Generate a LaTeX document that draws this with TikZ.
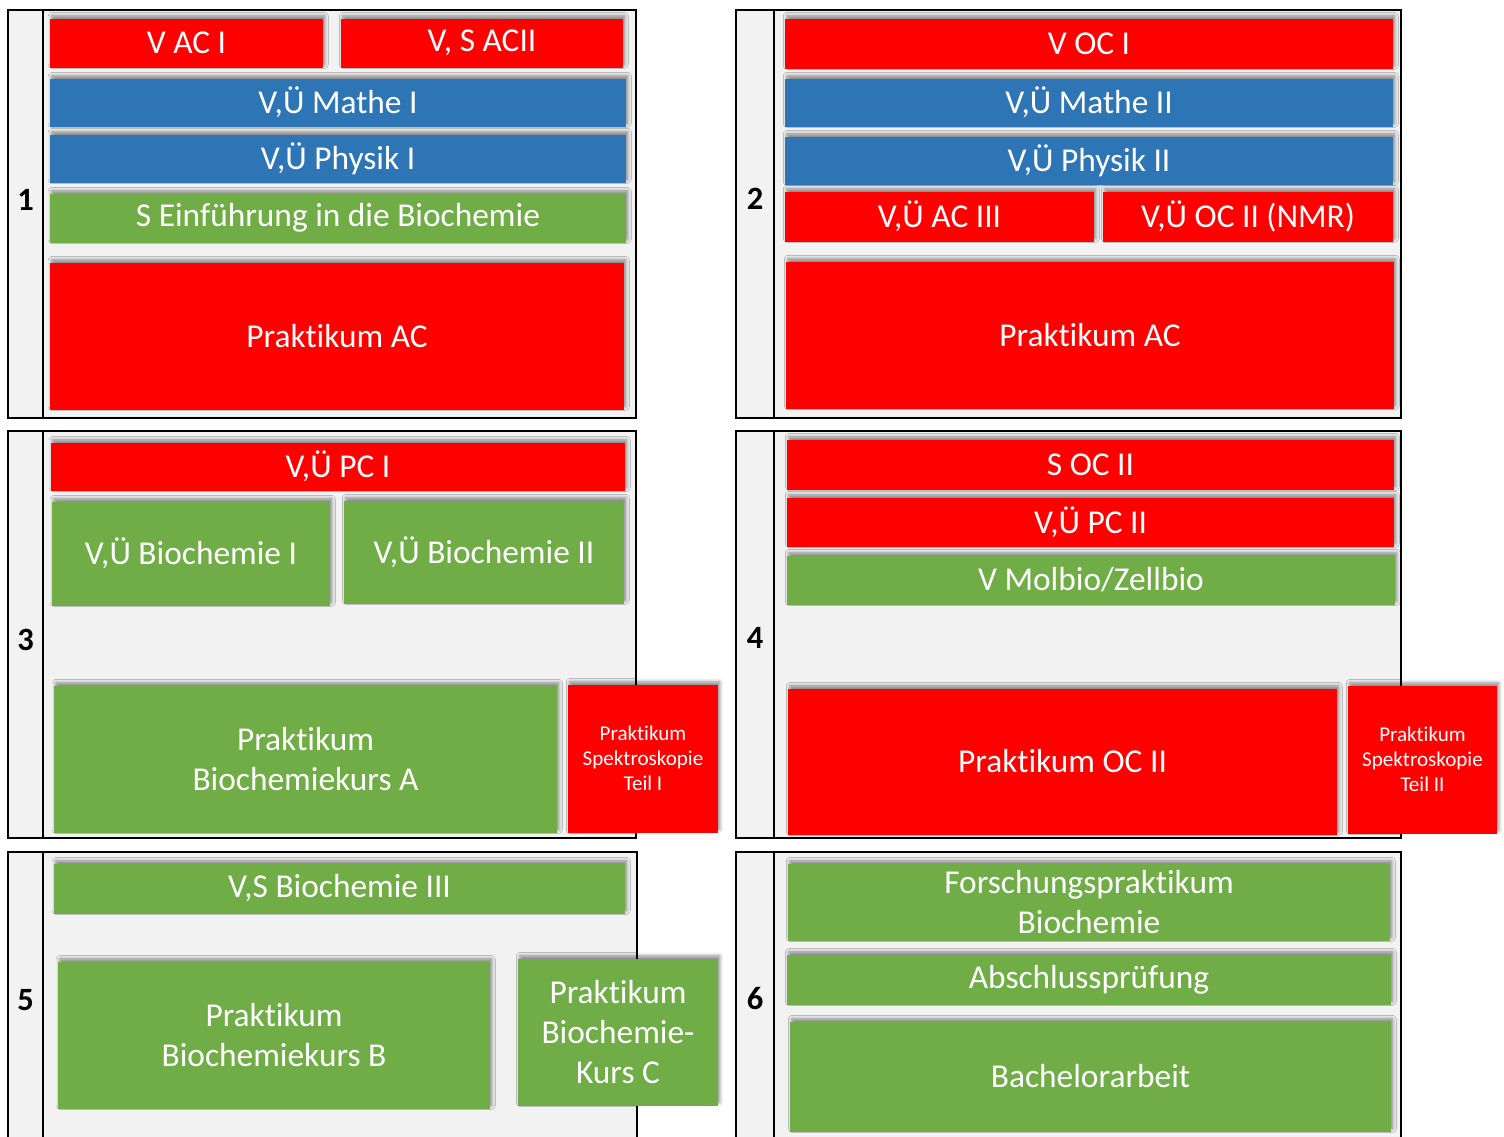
\documentclass[tikz,border=0pt]{standalone}
\usepackage{fontspec}
\setmainfont{Carlito}[Ligatures=NoCommon]
\usepackage{tikz}
\usetikzlibrary{shadows.blur}
\definecolor{ACrot}{HTML}{FF0000}
\definecolor{MPblau}{HTML}{2E75B6}
\definecolor{BCgruen}{HTML}{70AD47}
\definecolor{panelgrau}{HTML}{F2F2F2}
\newcommand\kursfont{\fontsize{19}{23}\selectfont}
\newcommand\kleinfont{\fontsize{12}{14.2}\selectfont}
\newcommand\nrfont{\fontsize{18.5}{20}\selectfont\bfseries}

\begin{document}
\begin{tikzpicture}[x=0.02cm, y=-0.02cm]

    \tikzset{%
        feld/.style n args={4}{%
                at={({(#1+#3)/2},{(#2+#4)/2+1.5})},
                minimum width={(#3-#1)*0.02cm},
                minimum height={(#4-#2)*0.02cm}
            },
        kurs/.style={fill=#1, text=white, inner sep=0pt, align=center, font=\kursfont,
                blur shadow={shadow xshift=1pt, shadow yshift=1.5pt, shadow blur radius=2pt, shadow opacity=45}},
        spektro/.style={kurs=ACrot, font=\kleinfont},
        panel/.style={fill=panelgrau, draw=black, line width=1pt},
        semnr/.style={font=\nrfont, text=black}
    }

    \clip (0, 0) rectangle (1504, 1136);

    % semester frames
    \foreach \fx/\fy/\w/\h/\c/\nr/\ny in {8/10/628/408/35/1/190, 736/10/665/408/38/2/189,
            8/431/628/407/35/3/209, 736/431/665/407/38/4/207,
            8/852/629/320/35/5/148, 736/852/665/320/38/6/147} {%
            \draw [panel] (\fx, \fy) rectangle ++(\w, \h);
            \draw [line width=1pt] ({\fx+\c}, \fy) -- ++(0, \h);
            \node [semnr] (nr\nr) at ({\fx+\c/2}, {\fy+\ny}) {\nr};
        }

    % 1. Semester
    \node [kurs=ACrot, feld={50}{17}{323}{66}] (vac1) {V AC I};
    \node [kurs=ACrot, feld={341}{17}{623}{66}] (vsac2) {V, S ACII};
    \node [kurs=MPblau, feld={50}{77}{626}{125}] (mathe1) {V,Ü Mathe I};
    \node [kurs=MPblau, feld={50}{133}{626}{181}] (physik1) {V,Ü Physik I};
    \node [kurs=BCgruen, feld={50}{192}{626}{241}] (einf) {S Einführung in die Biochemie};
    \node [kurs=ACrot, feld={50}{261}{624}{408}] (pac1) {Praktikum AC};

    % 2. Semester
    \node [kurs=ACrot, feld={785}{17}{1393}{67}] (voc1) {V OC I};
    \node [kurs=MPblau, feld={785}{77}{1393}{125}] (mathe2) {V,Ü Mathe II};
    \node [kurs=MPblau, feld={785}{135}{1393}{183}] (physik2) {V,Ü Physik II};
    \node [kurs=ACrot, feld={785}{190}{1094}{240}] (ac3) {V,Ü AC III};
    \node [kurs=ACrot, feld={1103}{190}{1393}{240}] (oc2nmr) {V,Ü OC II (NMR)};
    \node [kurs=ACrot, feld={786}{260}{1394}{407}] (pac2) {Praktikum AC};

    % 3. Semester
    \node [kurs=ACrot, feld={51}{441}{625}{489}] (pc1) {V,Ü PC I};
    \node [kurs=BCgruen, feld={52}{500}{330}{604}] (bc1) {V,Ü Biochemie I};
    \node [kurs=BCgruen, feld={344}{499}{624}{602}] (bc2) {V,Ü Biochemie II};
    \node [kurs=BCgruen, feld={54}{684}{557}{831}] (kursA) {Praktikum\\Biochemiekurs A};
    \node [spektro, feld={568}{683}{718}{831}] (spek1) {Praktikum\\Spektroskopie\\Teil I};

    % 4. Semester
    \node [kurs=ACrot, feld={787}{438}{1394}{488}] (soc2) {S OC II};
    \node [kurs=ACrot, feld={787}{496}{1394}{545}] (pc2) {V,Ü PC II};
    \node [kurs=BCgruen, feld={787}{554}{1395}{603}] (molbio) {V Molbio/Zellbio};
    \node [kurs=ACrot, feld={788}{687}{1337}{833}] (poc2) {Praktikum OC II};
    \node [spektro, feld={1348}{684}{1497}{832}] (spek2) {Praktikum\\Spektroskopie\\Teil II};

    % 5. Semester
    \node [kurs=BCgruen, feld={54}{862}{625}{912}] (bc3) {V,S Biochemie III};
    \node [kurs=BCgruen, feld={58}{960}{490}{1107}] (kursB) {Praktikum\\Biochemiekurs B};
    \node [kurs=BCgruen, feld={518}{957}{718}{1104}] (kursC) {Praktikum\\Biochemie-\\Kurs C};

    % 6. Semester
    \node [kurs=BCgruen, feld={788}{862}{1390}{939}] (forsch) {Forschungspraktikum\\Biochemie};
    \node [kurs=BCgruen, feld={787}{953}{1391}{1003}] (abschluss) {Abschlussprüfung};
    \node [kurs=BCgruen, feld={790}{1020}{1391}{1130}] (bachelor) {Bachelorarbeit};

\end{tikzpicture}
\end{document}
